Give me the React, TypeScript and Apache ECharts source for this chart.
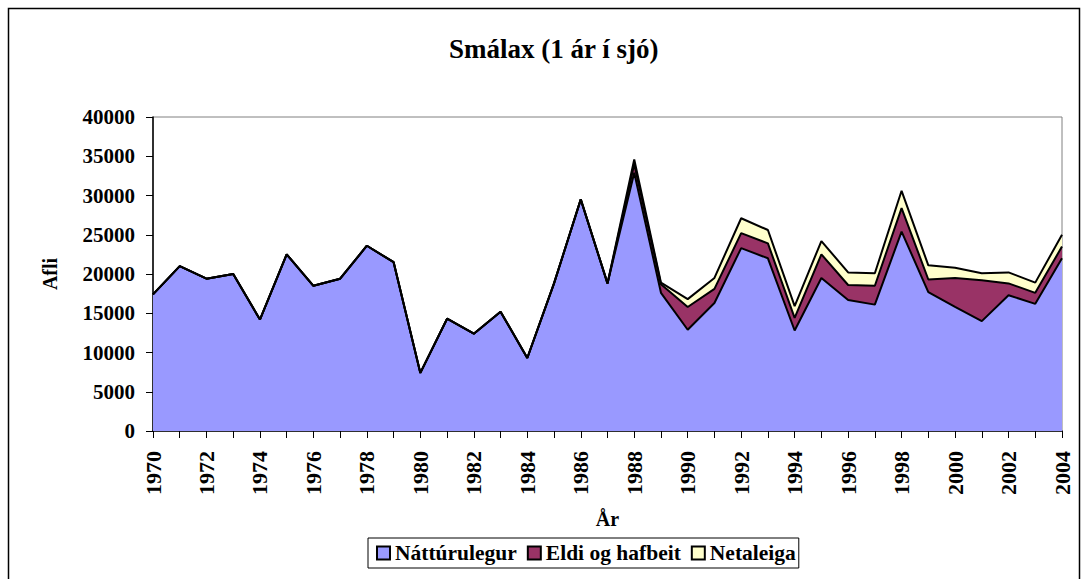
import React, { useEffect, useRef } from "react";
import * as echarts from "echarts";

const years: string[] = [
  "1970","1971","1972","1973","1974","1975","1976","1977","1978","1979",
  "1980","1981","1982","1983","1984","1985","1986","1987","1988","1989",
  "1990","1991","1992","1993","1994","1995","1996","1997","1998","1999",
  "2000","2001","2002","2003","2004",
];

const nattura: number[] = [
  17400, 21000, 19400, 20000, 14200, 22500, 18500, 19400, 23600, 21500,
  7400, 14300, 12400, 15200, 9300, 18800, 29500, 18800, 32900, 17600,
  12900, 16300, 23300, 22000, 12800, 19500, 16700, 16100, 25400, 17700,
  15800, 14000, 17300, 16200, 22000,
];

const eldi: number[] = [
  0, 0, 0, 0, 0, 0, 0, 0, 0, 0,
  0, 0, 0, 0, 0, 0, 0, 0, 1100, 1100,
  2900, 1800, 1900, 1900, 1600, 3000, 1900, 2400, 3000, 1600,
  3700, 5200, 1500, 1400, 1500,
];

const netaleiga: number[] = [
  0, 0, 0, 0, 0, 0, 0, 0, 0, 0,
  0, 0, 0, 0, 0, 0, 0, 0, 600, 200,
  1000, 1400, 1900, 1700, 1500, 1700, 1600, 1600, 2200, 1800,
  1300, 900, 1400, 1300, 1500,
];

const FONT = "'Liberation Serif', 'Times New Roman', serif";

export default function App() {
  const ref = useRef<HTMLDivElement>(null);
  useEffect(() => {
    if (!ref.current) return;
    const chart = echarts.init(ref.current, null, { renderer: "svg" });
    const mk = (name: string, data: number[], color: string) => ({
      name,
      type: "line",
      stack: "total",
      data,
      symbol: "none",
      lineStyle: { color: "#000", width: 2 },
      areaStyle: { color, opacity: 1 },
      itemStyle: { color, borderColor: "#000", borderWidth: 1 },
    });
    chart.setOption({
      animation: false,
      backgroundColor: "#fff",
      title: {
        text: "Smálax (1 ár í sjó)",
        left: 444,
        top: 30,
        textStyle: { fontFamily: FONT, fontWeight: "bold", fontSize: 27, color: "#000" },
      },
      graphic: [
        {
          type: "rect",
          shape: { x: 8.5, y: 8.5, width: 1071, height: 620 },
          style: { fill: "none", stroke: "#000", lineWidth: 1.5 },
          silent: true,
        },
      ],
      legend: {
        top: 538,
        left: 368,
        itemWidth: 13,
        itemHeight: 13,
        itemGap: 10,
        padding: [4, 3, 4, 8],
        borderColor: "#000",
        borderWidth: 1,
        icon: "rect",
        textStyle: { fontFamily: FONT, fontWeight: "bold", fontSize: 21.5, color: "#000" },
        data: ["Náttúrulegur", "Eldi og hafbeit", "Netaleiga"],
      },
      grid: {
        left: 153,
        right: 26,
        top: 117,
        bottom: 148,
        show: true,
        borderColor: "#808080",
        borderWidth: 1,
      },
      xAxis: {
        type: "category",
        data: years,
        boundaryGap: false,
        name: "År",
        nameLocation: "middle",
        nameGap: 78,
        nameTextStyle: { fontFamily: FONT, fontWeight: "bold", fontSize: 20, color: "#000" },
        axisLine: { lineStyle: { color: "#000", width: 1.5 } },
        axisTick: { show: true, length: 7, interval: 0, lineStyle: { color: "#000" } },
        axisLabel: {
          rotate: 90,
          interval: 1,
          margin: 20,
          fontFamily: FONT,
          fontWeight: "bold",
          fontSize: 22,
          color: "#000",
        },
        splitLine: { show: false },
      },
      yAxis: {
        type: "value",
        min: 0,
        max: 40000,
        interval: 5000,
        name: "Afli",
        nameLocation: "middle",
        nameRotate: 90,
        nameGap: 93,
        nameTextStyle: { fontFamily: FONT, fontWeight: "bold", fontSize: 20, color: "#000" },
        axisLine: { show: true, lineStyle: { color: "#000", width: 1.5 } },
        axisTick: { show: true, length: 7, lineStyle: { color: "#000" } },
        axisLabel: {
          margin: 18,
          fontFamily: FONT,
          fontWeight: "bold",
          fontSize: 21,
          color: "#000",
          formatter: (v: number) => String(v),
        },
        splitLine: { show: false },
      },
      series: [
        mk("Náttúrulegur", nattura, "#9999FF"),
        mk("Eldi og hafbeit", eldi, "#993366"),
        mk("Netaleiga", netaleiga, "#FFFFCC"),
      ],
    });
    return () => chart.dispose();
  }, []);
  return (
    <div
      ref={ref}
      style={{ position: "absolute", left: 0, top: 0, width: 1088, height: 579 }}
    />
  );
}
